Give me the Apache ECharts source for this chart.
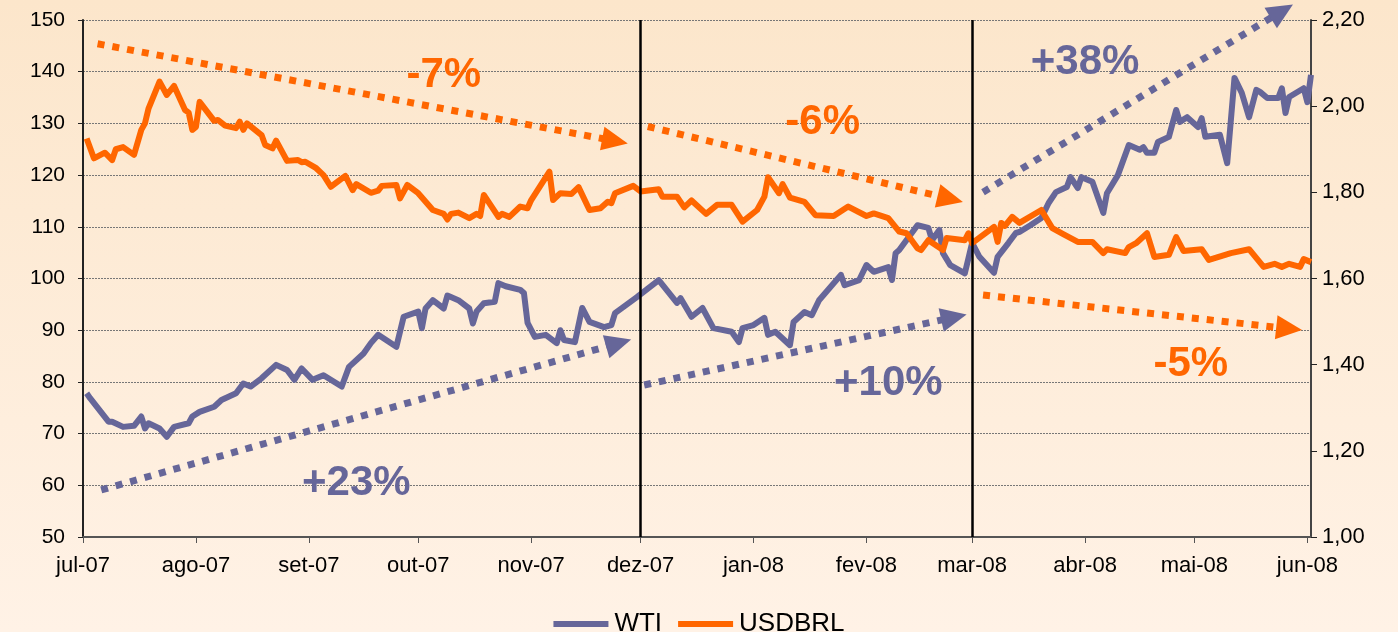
<!DOCTYPE html>
<html>
<head>
<meta charset="utf-8">
<script src="https://cdn.jsdelivr.net/npm/echarts@6/dist/echarts.min.js"></script>
<style>
  html, body { margin: 0; padding: 0; }
  #main { width: 1398px; height: 632px; }
</style>
</head>
<body>
<div id="main"></div>
<script>
// eixo x: inicio de cada mes e rotulos
var months = ['2007-07-01','2007-08-01','2007-09-01','2007-10-01','2007-11-01','2007-12-01',
              '2008-01-01','2008-02-01','2008-03-01','2008-04-01','2008-05-01','2008-06-01'];
var monthLabels = ['jul-07','ago-07','set-07','out-07','nov-07','dez-07',
                   'jan-08','fev-08','mar-08','abr-08','mai-08','jun-08'];

// WTI (US$/barril) - eixo esquerdo
var wtiDates = ['2007-07-02','2007-07-03','2007-07-08','2007-07-09','2007-07-12','2007-07-15','2007-07-17','2007-07-18','2007-07-19','2007-07-22',
  '2007-07-24','2007-07-26','2007-07-30','2007-07-31','2007-08-02','2007-08-06','2007-08-08','2007-08-12','2007-08-14','2007-08-16',
  '2007-08-19','2007-08-23','2007-08-26','2007-08-28','2007-08-30','2007-09-02','2007-09-05','2007-09-10','2007-09-12','2007-09-16',
  '2007-09-18','2007-09-20','2007-09-25','2007-09-27','2007-10-01','2007-10-02','2007-10-03','2007-10-05','2007-10-08','2007-10-09',
  '2007-10-12','2007-10-15','2007-10-16','2007-10-17','2007-10-19','2007-10-22','2007-10-23','2007-10-25','2007-10-29','2007-10-30',
  '2007-10-31','2007-11-02','2007-11-05','2007-11-08','2007-11-09','2007-11-10','2007-11-13','2007-11-15','2007-11-17','2007-11-21',
  '2007-11-23','2007-11-24','2007-11-30','2007-12-06','2007-12-11','2007-12-12','2007-12-15','2007-12-18','2007-12-21','2007-12-26',
  '2007-12-28','2007-12-29','2008-01-01','2008-01-04','2008-01-05','2008-01-07','2008-01-11','2008-01-12','2008-01-15','2008-01-17',
  '2008-01-19','2008-01-25','2008-01-26','2008-01-30','2008-02-01','2008-02-03','2008-02-07','2008-02-08','2008-02-09','2008-02-10',
  '2008-02-15','2008-02-18','2008-02-19','2008-02-21','2008-02-22','2008-02-24','2008-02-28','2008-03-01','2008-03-03','2008-03-07',
  '2008-03-08','2008-03-11','2008-03-13','2008-03-14','2008-03-17','2008-03-20','2008-03-22','2008-03-24','2008-03-27','2008-03-28',
  '2008-03-30','2008-03-31','2008-04-03','2008-04-06','2008-04-07','2008-04-10','2008-04-13','2008-04-16','2008-04-17','2008-04-18',
  '2008-04-20','2008-04-21','2008-04-24','2008-04-26','2008-04-27','2008-04-29','2008-05-02','2008-05-03','2008-05-04','2008-05-08',
  '2008-05-10','2008-05-12','2008-05-14','2008-05-16','2008-05-18','2008-05-19','2008-05-21','2008-05-24','2008-05-25','2008-05-26',
  '2008-05-27','2008-05-31','2008-06-01','2008-06-02'];
var wtiValues = [77.8,76.8,72.3,72.3,71.3,71.5,73.3,71.0,72.0,71.0,
  69.4,71.3,72.0,73.3,74.2,75.2,76.5,77.8,79.7,79.1,
  80.7,83.3,82.3,80.4,82.6,80.4,81.3,79.1,82.9,85.5,
  87.5,89.1,86.8,92.6,93.6,90.4,94.2,95.8,94.2,96.7,
  95.8,94.2,91.3,93.6,95.2,95.5,99.1,98.5,97.8,97.2,
  91.4,88.7,89.1,87.5,90.0,88.1,87.7,94.3,91.6,90.6,
  91.0,93.3,96.4,99.7,95.3,96.2,92.6,94.3,90.4,89.7,
  87.7,90.4,91.0,92.4,89.1,89.7,87.1,91.6,93.5,92.9,
  95.8,100.7,98.7,99.7,102.6,101.3,102.2,99.7,104.9,105.5,
  110.3,109.8,107.4,109.4,104.9,102.6,101.0,106.9,104.2,101.1,
  104.2,106.9,108.8,109.0,110.3,111.7,114.6,116.7,117.7,119.6,
  117.5,119.6,118.7,112.7,116.5,120.0,125.8,124.9,125.4,124.3,
  124.3,126.4,127.4,132.6,130.3,131.2,129.3,131.0,127.4,127.8,
  122.3,138.8,135.9,131.2,136.5,136.1,134.9,134.9,136.8,132.0,
  135.1,136.8,134.1,139.4];

// USDBRL - eixo direito
var brlDates = ['2007-07-02','2007-07-04','2007-07-07','2007-07-09','2007-07-10','2007-07-12','2007-07-15','2007-07-17','2007-07-18','2007-07-19',
  '2007-07-22','2007-07-24','2007-07-26','2007-07-29','2007-07-30','2007-07-31','2007-08-01','2007-08-02','2007-08-06','2007-08-07',
  '2007-08-09','2007-08-12','2007-08-13','2007-08-14','2007-08-15','2007-08-19','2007-08-20','2007-08-22','2007-08-23','2007-08-26',
  '2007-08-29','2007-08-30','2007-08-31','2007-09-03','2007-09-05','2007-09-07','2007-09-11','2007-09-13','2007-09-14','2007-09-18',
  '2007-09-20','2007-09-21','2007-09-25','2007-09-26','2007-09-28','2007-10-01','2007-10-05','2007-10-08','2007-10-09','2007-10-10',
  '2007-10-12','2007-10-15','2007-10-17','2007-10-18','2007-10-19','2007-10-23','2007-10-24','2007-10-26','2007-10-29','2007-10-31',
  '2007-11-01','2007-11-06','2007-11-07','2007-11-09','2007-11-12','2007-11-14','2007-11-17','2007-11-20','2007-11-22','2007-11-23',
  '2007-11-24','2007-11-29','2007-12-01','2007-12-06','2007-12-07','2007-12-11','2007-12-13','2007-12-15','2007-12-19','2007-12-22',
  '2007-12-26','2007-12-29','2008-01-02','2008-01-04','2008-01-05','2008-01-08','2008-01-09','2008-01-11','2008-01-15','2008-01-18',
  '2008-01-23','2008-01-27','2008-02-01','2008-02-03','2008-02-07','2008-02-10','2008-02-12','2008-02-15','2008-02-16','2008-02-18',
  '2008-02-22','2008-02-23','2008-02-28','2008-02-29','2008-03-01','2008-03-07','2008-03-08','2008-03-09','2008-03-10','2008-03-12',
  '2008-03-14','2008-03-20','2008-03-23','2008-03-26','2008-03-30','2008-04-03','2008-04-06','2008-04-07','2008-04-12','2008-04-13',
  '2008-04-15','2008-04-18','2008-04-20','2008-04-24','2008-04-26','2008-04-28','2008-05-03','2008-05-05','2008-05-11','2008-05-16',
  '2008-05-20','2008-05-23','2008-05-25','2008-05-27','2008-05-30','2008-05-31','2008-06-02'];
var brlValues = [1.925,1.879,1.892,1.875,1.900,1.905,1.887,1.945,1.960,1.995,
  2.057,2.026,2.047,1.991,1.985,1.945,1.952,2.010,1.966,1.968,
  1.955,1.949,1.964,1.945,1.960,1.933,1.910,1.902,1.920,1.873,
  1.875,1.870,1.871,1.856,1.840,1.813,1.838,1.805,1.819,1.799,
  1.804,1.815,1.817,1.786,1.817,1.798,1.759,1.750,1.737,1.750,
  1.753,1.740,1.750,1.745,1.794,1.743,1.750,1.743,1.767,1.763,
  1.782,1.848,1.782,1.798,1.796,1.812,1.759,1.763,1.778,1.775,
  1.798,1.815,1.802,1.807,1.790,1.790,1.765,1.781,1.750,1.771,
  1.771,1.732,1.759,1.790,1.835,1.798,1.819,1.788,1.778,1.747,
  1.745,1.767,1.745,1.751,1.740,1.709,1.705,1.670,1.666,1.689,
  1.666,1.694,1.689,1.705,1.682,1.720,1.685,1.729,1.722,1.743,
  1.729,1.759,1.717,1.703,1.685,1.685,1.659,1.668,1.659,1.673,
  1.682,1.705,1.650,1.655,1.696,1.664,1.668,1.643,1.659,1.668,
  1.627,1.634,1.627,1.634,1.627,1.645,1.638];

// tendencias (setas pontilhadas) e variacoes
var trendStart = [['2007-07-05',145.4],['2007-12-03',129.4],['2008-03-04',96.8],
                  ['2007-07-06',59.1],['2007-12-02',79.4],['2008-03-04',116.7]];
var trendEnd   = [['2007-11-24',126.6],['2008-02-24',115.4],['2008-05-27',90.3],
                  ['2007-11-25',87.5],['2008-02-25',92.5],['2008-05-25',151.7]];
var trendText  = ['-7%','-6%','-5%','+23%','+10%','+38%'];
var trendTextPos = [['2007-10-08',139.3],['2008-01-20',130.1],['2008-04-30',83.3],
                    ['2007-09-14',60.4],['2008-02-07',79.8],['2008-04-01',141.7]];
var cutDates = ['2007-12-01','2008-03-01'];

var ORANGE = '#FF6600', PURPLE = '#666699';
var trendColor = [ORANGE, ORANGE, ORANGE, PURPLE, PURPLE, PURPLE];
var FONT = '"Liberation Sans", Arial, sans-serif';

function ts(s) { var p = s.split('-'); return new Date(+p[0], +p[1] - 1, +p[2]).getTime(); }
function pt(p) { return [ts(p[0]), p[1]]; }

var monthTs = months.map(ts);

var myChart = echarts.init(document.getElementById('main'));

var option = {
  animation: false,
  backgroundColor: {
    type: 'linear', x: 0, y: 0, x2: 0, y2: 1,
    colorStops: [{ offset: 0, color: '#FCE6CB' }, { offset: 1, color: '#FFF2E6' }]
  },
  textStyle: { fontFamily: FONT },
  grid: { left: 83, right: 87, top: 20, bottom: 95 },
  legend: {
    top: 606, left: 'center',
    icon: 'rect', itemWidth: 55, itemHeight: 6, itemGap: 16,
    textStyle: { fontSize: 26, color: '#000', fontFamily: FONT, padding: [0, 0, 0, 1] },
    data: ['WTI', 'USDBRL']
  },
  xAxis: {
    type: 'value',
    min: ts('2007-07-01'), max: ts('2008-06-02'),
    axisLine: { lineStyle: { color: '#555', width: 2 } },
    axisTick: { show: true, length: 6, customValues: monthTs, lineStyle: { color: '#555' } },
    axisLabel: {
      customValues: monthTs, color: '#000', fontSize: 22, margin: 18, fontFamily: FONT,
      formatter: function (v) {
        var i = monthTs.indexOf(v);
        return i >= 0 ? monthLabels[i] : '';
      }
    },
    splitLine: { show: false }
  },
  yAxis: [{
    type: 'value', min: 50, max: 150, interval: 10,
    axisLine: { show: true, lineStyle: { color: '#222', width: 2 } },
    axisTick: { show: true, length: 5, lineStyle: { color: '#222' } },
    axisLabel: { color: '#000', fontSize: 21, margin: 18, fontFamily: FONT },
    splitLine: { show: true, lineStyle: { color: '#777', type: [2, 1], width: 1 } }
  }, {
    type: 'value', min: 1.0, max: 2.2, interval: 0.2,
    axisLine: { show: true, lineStyle: { color: '#444', width: 2 } },
    axisTick: { show: true, length: 6, lineStyle: { color: '#222' } },
    axisLabel: {
      color: '#000', fontSize: 22, margin: 11, fontFamily: FONT,
      formatter: function (v) { return v.toFixed(2).replace('.', ','); }
    },
    splitLine: { show: false }
  }],
  series: [{
    name: 'WTI', type: 'line', yAxisIndex: 0, clip: false,
    showSymbol: false, symbol: 'none',
    lineStyle: { color: PURPLE, width: 6, join: 'round' },
    itemStyle: { color: PURPLE },
    data: wtiDates.map(function (d, i) { return [ts(d), wtiValues[i]]; }),
    markPoint: {
      silent: true, symbol: 'circle', symbolSize: 1,
      itemStyle: { color: 'rgba(0,0,0,0)' },
      data: trendTextPos.map(function (p, i) {
        return {
          coord: pt(p),
          label: {
            show: true, position: 'inside', formatter: trendText[i],
            color: trendColor[i], fontSize: 42, fontWeight: 'bold', fontFamily: FONT
          }
        };
      })
    }
  }, {
    name: 'USDBRL', type: 'line', yAxisIndex: 1,
    showSymbol: false, symbol: 'none',
    lineStyle: { color: ORANGE, width: 6, join: 'round' },
    itemStyle: { color: ORANGE },
    data: brlDates.map(function (d, i) { return [ts(d), brlValues[i]]; }),
    markLine: {
      silent: true, symbol: ['none', 'none'],
      label: { show: false },
      lineStyle: { color: '#000', width: 2.5, type: 'solid' },
      data: cutDates.map(function (d) { return { xAxis: ts(d) }; })
    }
  }]
};

myChart.setOption(option);

// setas: converte pelo eixo (a seta de +38% passa do topo do grafico)
var toPx = function (p) { return myChart.convertToPixel({ seriesIndex: 0 }, pt(p)); };
var arrows = trendStart.map(function (s, i) {
  var a = toPx(s), b = toPx(trendEnd[i]);
  return [
    { x: a[0], y: a[1], symbol: 'none', lineStyle: { color: trendColor[i], width: 7, type: [7, 8], cap: 'butt' } },
    { x: b[0], y: b[1], symbol: 'triangle', symbolSize: [24, 26], itemStyle: { color: trendColor[i] } }
  ];
});
myChart.setOption({
  series: [{
    markLine: {
      silent: true, symbol: ['none', 'triangle'],
      label: { show: false },
      data: arrows
    }
  }]
});
</script>
</body>
</html>
